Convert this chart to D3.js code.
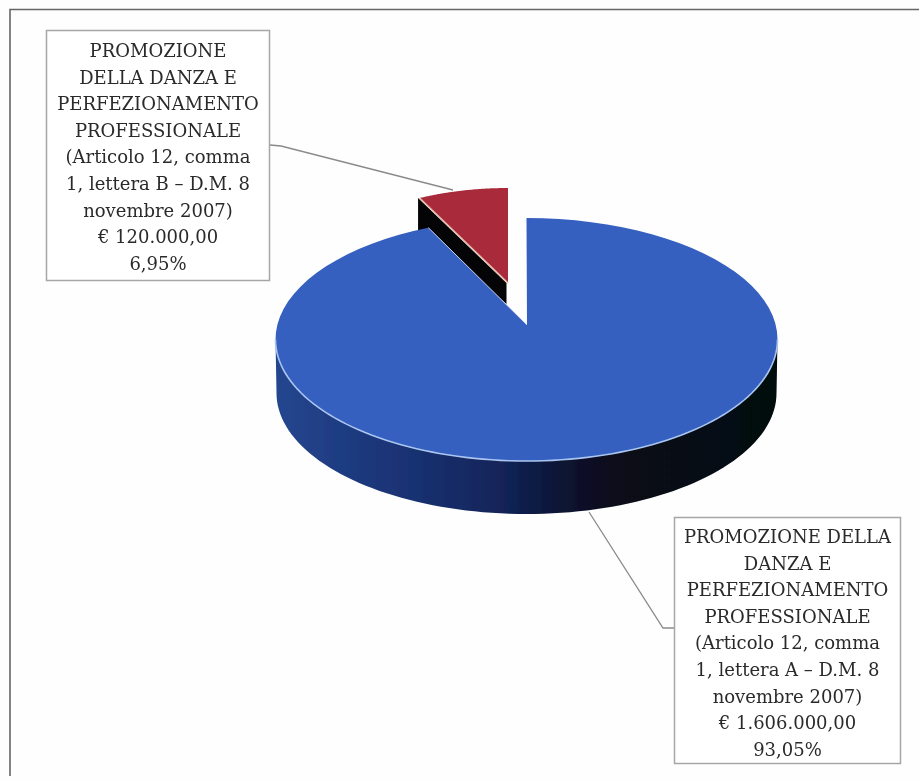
<!DOCTYPE html>
<html><head><meta charset="utf-8">
<script src="https://cdnjs.cloudflare.com/ajax/libs/d3/7.8.5/d3.min.js"></script>
<style>html,body{margin:0;padding:0;background:#fff}svg{display:block}</style></head>
<body><svg id="c" width="919" height="780"></svg>
<script>
const categories = ["Lettera A", "Lettera B"];
const seriesValues = [1606000, 120000];
const labelA = ["PROMOZIONE DELLA","DANZA E","PERFEZIONAMENTO","PROFESSIONALE","(Articolo 12, comma","1, lettera A – D.M. 8","novembre 2007)","€ 1.606.000,00","93,05%"];
const labelB = ["PROMOZIONE","DELLA DANZA E","PERFEZIONAMENTO","PROFESSIONALE","(Articolo 12, comma","1, lettera B – D.M. 8","novembre 2007)","€ 120.000,00","6,95%"];

const svg = d3.select("#c");
const defs = svg.append("defs");
const grad = defs.append("linearGradient").attr("id","side").attr("x1","0").attr("x2","1").attr("y1","0").attr("y2","0");
[[0,"#24468f"],[0.22,"#1b3578"],[0.45,"#122459"],[0.58,"#0b1330"],[0.68,"#070a1a"],[1,"#06070f"]]
  .forEach(([o,c])=>grad.append("stop").attr("offset",o).attr("stop-color",c));
defs.append("filter").attr("id","soft").append("feGaussianBlur").attr("stdDeviation",0.6);
defs.append("filter").attr("id","softText").append("feGaussianBlur").attr("stdDeviation",0.35);

svg.append("rect").attr("width",919).attr("height",780).attr("fill","#fefefe");
svg.append("path").attr("fill","none").attr("stroke","#666").attr("stroke-width",1.6)
  .attr("d", d3.line()([[10,776],[10,9.5],[919,9.5]]));

const TAU = 2*Math.PI;
const pieData = d3.pie().sort(null).startAngle(0).endAngle(TAU)(seriesValues);
const [blue, red] = pieData;

function arcPts(g, a0, a1){
  const n = 90;
  return d3.range(n+1).map(i=>{
    const t = a0+(a1-a0)*i/n;
    return [g.cx+g.rx*Math.sin(t), g.cy-g.ry*Math.cos(t)];
  });
}
const line = d3.line();
const topG = {cx:526.5, cy:339.5, rx:251, ry:121.5, ax:527, ay:325};
const base = {cx:526.5, cy:393, rx:250, ry:121};
const redG = {cx:508, cy:295, rx:209, ry:107, ax:508, ay:283};
const depthRed = 21;
const gap = 0.035;

// red slice: dark wall, then top
const redRim = arcPts(redG, red.startAngle, red.endAngle);
const rLeft = redRim[0];
svg.append("path").attr("fill","#040406").attr("d", line([
  rLeft,[redG.ax,redG.ay],[redG.ax,redG.ay+depthRed],[rLeft[0],rLeft[1]+depthRed+12]])+"Z")
  .attr("transform","translate(-1.5,0)");
svg.append("path").attr("fill","#a92c3b").attr("filter","url(#soft)")
  .attr("d", line([[redG.ax,redG.ay],...redRim])+"Z");
svg.append("path").attr("fill","none").attr("stroke","#e6b9a8").attr("stroke-width",1.5)
  .attr("d", line([rLeft,[redG.ax,redG.ay]]));

// blue slice: wall (front half), then top
const front = arcPts(base, Math.PI*0.5, Math.PI*1.5);
const frontTop = arcPts(topG, Math.PI*0.5, Math.PI*1.5);
svg.append("path").attr("fill","url(#side)").attr("filter","url(#soft)")
  .attr("d", line([...frontTop, ...front.slice().reverse()])+"Z");
const blueRim = arcPts(topG, blue.startAngle, blue.endAngle+gap);
svg.append("path").attr("fill","#3660c0").attr("filter","url(#soft)")
  .attr("d", line([[topG.ax,topG.ay],...blueRim])+"Z");
svg.append("path").attr("fill","none").attr("stroke","#a9c5f0").attr("stroke-width",1.6)
  .attr("d", line(frontTop));
svg.append("path").attr("fill","none").attr("stroke","#c9d6f2").attr("stroke-width",1)
  .attr("d", line([[topG.ax,topG.ay],blueRim[blueRim.length-1]]));

// leader lines
const leaderB = [[270,145],[281,146],[453,190]];
const leaderA = [[589,512],[663,628],[674,628]];
[leaderA,leaderB].forEach(p=>svg.append("path").attr("fill","none").attr("stroke","#8a8a8a").attr("stroke-width",1.3).attr("d",line(p)));

// labels
function label(x,y,w,h,lines,y0){
  svg.append("rect").attr("x",x).attr("y",y).attr("width",w).attr("height",h)
    .attr("fill","#fff").attr("stroke","#a6a6a6").attr("stroke-width",1.5);
  svg.append("g").attr("filter","url(#softText)").selectAll("text").data(lines).join("text")
    .attr("x",x+w/2).attr("y",(d,i)=>y0+i*26.6)
    .attr("text-anchor","middle")
    .attr("font-family","'DejaVu Serif',serif").attr("font-size",18)
    .attr("fill","#2a2a2a").text(d=>d);
}
label(46.5,30.5,223,250,labelB,57);
label(674.5,517.5,226,246,labelA,543);
</script></body></html>
